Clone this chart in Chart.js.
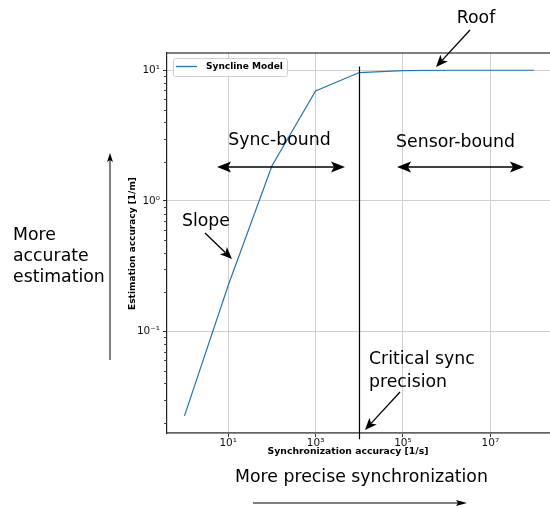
<!DOCTYPE html>
<html><head><meta charset="utf-8">
<script src="https://cdn.jsdelivr.net/npm/chart.js@4"></script>
<style>html,body{margin:0;padding:0;background:#fff;overflow:hidden}</style>
</head><body>
<canvas id="c" width="550" height="508" style="width:550px;height:508px;display:block"></canvas>
<script>
// ---- data ----
const syncAccuracy = [1, 10, 100, 1000, 1e4, 1e5, 1e6, 1e7, 1e8];
const estimationAccuracy = [0.0226, 0.225, 1.85, 6.95, 9.6, 9.95, 10, 10, 10];
const seriesName = 'Syncline Model';
const xTickValues = [1e1, 1e3, 1e5, 1e7];
const yTickValues = [1e-1, 1e0, 1e1];
const criticalSync = 1e4;
const criticalLineRange = [10.7, 0.0150];
const xLabel = 'Synchronization accuracy [1/s]';
const yLabel = 'Estimation accuracy [1/m]';

const FONT = '"DejaVu Sans", Verdana, sans-serif';
const SUP = {'-':'\u207B','0':'\u2070','1':'\u00B9','2':'\u00B2','3':'\u00B3','4':'\u2074','5':'\u2075','6':'\u2076','7':'\u2077','8':'\u2078','9':'\u2079'};
function decadeLabel(v){
  const e = Math.round(Math.log10(v));
  return '10' + String(e).split('').map(c => SUP[c]).join('');
}

function fitSize(ctx, text, targetW, weight){
  ctx.font = weight + ' 100px ' + FONT;
  const w = ctx.measureText(text).width;
  return 100 * targetW / w;
}
function drawText(ctx, text, x, y, targetW, opts){
  opts = opts || {};
  const weight = opts.weight || 'normal';
  const size = opts.size || fitSize(ctx, text, targetW, weight);
  ctx.save();
  ctx.font = weight + ' ' + size.toFixed(2) + 'px ' + FONT;
  ctx.fillStyle = '#000';
  ctx.textAlign = opts.align || 'center';
  ctx.textBaseline = 'middle';
  if (opts.rotate){
    ctx.translate(x, y); ctx.rotate(opts.rotate); ctx.fillText(text, 0, 0);
  } else ctx.fillText(text, x, y);
  ctx.restore();
  return size;
}
function head(ctx, tx, ty, dx, dy, len, w, notch){
  const px = -dy, py = dx;
  ctx.beginPath();
  ctx.moveTo(tx, ty);
  ctx.lineTo(tx - dx*len + px*w/2, ty - dy*len + py*w/2);
  ctx.lineTo(tx - dx*(len-notch), ty - dy*(len-notch));
  ctx.lineTo(tx - dx*len - px*w/2, ty - dy*len - py*w/2);
  ctx.closePath();
  ctx.fill();
}
function arrow(ctx, x1, y1, x2, y2, o){
  o = Object.assign({len:14, w:11, notch:3, lw:1.3, both:false}, o||{});
  const L = Math.hypot(x2-x1, y2-y1), dx = (x2-x1)/L, dy = (y2-y1)/L;
  ctx.save();
  ctx.strokeStyle = '#000'; ctx.fillStyle = '#000'; ctx.lineWidth = o.lw;
  ctx.beginPath();
  const sx = o.both ? x1 + dx*(o.len-o.notch) : x1, sy = o.both ? y1 + dy*(o.len-o.notch) : y1;
  ctx.moveTo(sx, sy);
  ctx.lineTo(x2 - dx*(o.len-o.notch), y2 - dy*(o.len-o.notch));
  ctx.stroke();
  head(ctx, x2, y2, dx, dy, o.len, o.w, o.notch);
  if (o.both) head(ctx, x1, y1, -dx, -dy, o.len, o.w, o.notch);
  ctx.restore();
}

const overlay = {
  id: 'overlay',
  afterDraw(chart){
    const ctx = chart.ctx, ca = chart.chartArea;
    const xs = chart.scales.x, ys = chart.scales.y;
    ctx.save();
    // top spine
    ctx.strokeStyle = '#555'; ctx.lineWidth = 1.5;
    ctx.beginPath(); ctx.moveTo(ca.left, ca.top); ctx.lineTo(ca.right, ca.top); ctx.stroke();
    // y minor ticks
    ctx.strokeStyle = '#444'; ctx.lineWidth = 1;
    for (let e = -2; e <= 1; e++){
      for (let m = 2; m <= 9; m++){
        const v = m * Math.pow(10, e);
        if (v < ys.min || v > ys.max) continue;
        const y = Math.round(ys.getPixelForValue(v)) + 0.5;
        ctx.beginPath(); ctx.moveTo(ca.left - 3, y); ctx.lineTo(ca.left - 0.5, y); ctx.stroke();
      }
    }
    // critical sync line
    const cx = Math.round(xs.getPixelForValue(criticalSync)) + 0.5;
    ctx.strokeStyle = '#000'; ctx.lineWidth = 1.2;
    ctx.beginPath();
    ctx.moveTo(cx, ys.getPixelForValue(criticalLineRange[0]));
    ctx.lineTo(cx, ys.getPixelForValue(criticalLineRange[1]));
    ctx.stroke();
    // legend
    ctx.fillStyle = 'rgba(255,255,255,0.85)';
    ctx.strokeStyle = '#d0d0d0'; ctx.lineWidth = 1;
    ctx.beginPath(); ctx.roundRect(173.5, 58.5, 114, 18, 2); ctx.fill(); ctx.stroke();
    ctx.strokeStyle = '#1f77b4'; ctx.lineWidth = 1.3;
    ctx.beginPath(); ctx.moveTo(176, 66.5); ctx.lineTo(197, 66.5); ctx.stroke();
    drawText(ctx, seriesName, 206, 67, 77, {weight:'bold', align:'left'});
    ctx.restore();

    // axis titles
    drawText(ctx, xLabel, 348, 452, 161, {weight:'bold'});
    drawText(ctx, yLabel, 133, 243.5, 133, {weight:'bold', rotate:-Math.PI/2});

    // annotations
    const s = fitSize(ctx, 'More precise synchronization', 253, 'normal');
    drawText(ctx, 'Roof', 476, 18, 0, {size:s});
    arrow(ctx, 470, 30, 436, 67, {len:12, w:10});
    drawText(ctx, 'Sync-bound', 279.5, 140, 0, {size:s});
    arrow(ctx, 217, 167, 345, 167, {both:true});
    drawText(ctx, 'Sensor-bound', 455.5, 142, 0, {size:s});
    arrow(ctx, 397, 167, 524, 167, {both:true});
    drawText(ctx, 'Slope', 206, 221, 0, {size:s});
    arrow(ctx, 205, 233, 232, 259, {len:12, w:10});
    drawText(ctx, 'More', 13, 235, 0, {size:s, align:'left'});
    drawText(ctx, 'accurate', 13, 256, 0, {size:s, align:'left'});
    drawText(ctx, 'estimation', 13, 277, 0, {size:s, align:'left'});
    arrow(ctx, 110, 360, 110, 153, {len:9, w:6, notch:2, lw:1});
    drawText(ctx, 'Critical sync', 369, 359, 0, {size:s, align:'left'});
    drawText(ctx, 'precision', 369, 382, 0, {size:s, align:'left'});
    arrow(ctx, 400, 392, 365, 430, {len:12, w:10});
    drawText(ctx, 'More precise synchronization', 361.5, 477, 0, {size:s});
    arrow(ctx, 253, 503, 467, 503, {len:11, w:6, notch:2, lw:1});
  }
};

new Chart(document.getElementById('c'), {
  type: 'line',
  data: {
    datasets: [{
      label: seriesName,
      data: syncAccuracy.map((x, i) => ({x: x, y: estimationAccuracy[i]})),
      borderColor: '#1f77b4',
      borderWidth: 1.2,
      pointRadius: 0,
      fill: false,
      tension: 0
    }]
  },
  options: {
    responsive: false,
    devicePixelRatio: 1,
    animation: false,
    layout: { padding: { top: 53, right: 0, left: 0, bottom: 0 } },
    plugins: { legend: { display: false }, tooltip: { enabled: false } },
    scales: {
      x: {
        type: 'logarithmic',
        min: Math.pow(10, -0.4),
        max: Math.pow(10, 8.365),
        afterBuildTicks: sc => { sc.ticks = xTickValues.map(v => ({value: v})); },
        afterFit: sc => { sc.height = 75; },
        ticks: {
          autoSkip: false, maxRotation: 0, padding: 0, color: '#111',
          font: { family: FONT, size: 10.5 },
          callback: v => decadeLabel(v)
        },
        grid: { color: '#d0d0d0', lineWidth: 1, tickColor: '#333', tickLength: 4 },
        border: { display: true, color: '#666', width: 1.8 }
      },
      y: {
        type: 'logarithmic',
        min: Math.pow(10, -1.777),
        max: Math.pow(10, 1.132),
        afterBuildTicks: sc => { sc.ticks = yTickValues.map(v => ({value: v})); },
        afterFit: sc => { sc.width = 167; },
        ticks: {
          autoSkip: false, padding: 3, color: '#111',
          font: { family: FONT, size: 10.5 },
          callback: v => decadeLabel(v)
        },
        grid: { color: '#d0d0d0', lineWidth: 1, tickColor: '#333', tickLength: 4 },
        border: { display: true, color: '#222', width: 1.2 }
      }
    }
  },
  plugins: [overlay]
});
</script>
</body></html>
